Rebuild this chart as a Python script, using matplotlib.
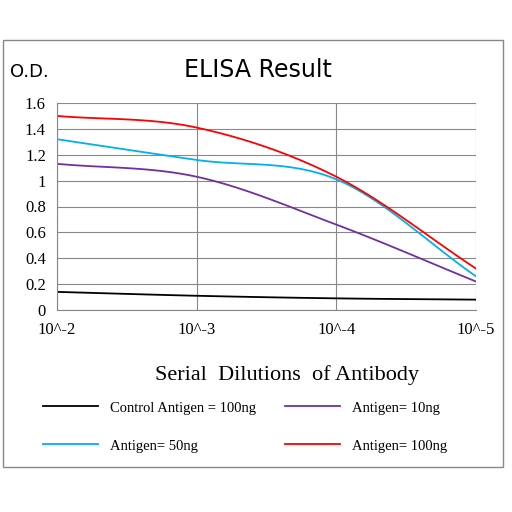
import numpy as np
import matplotlib
matplotlib.use("Agg")
import matplotlib.pyplot as plt

xlabels = ["10^-2", "10^-3", "10^-4", "10^-5"]
control = [0.14, 0.11, 0.09, 0.08]
ag10 = [1.13, 1.03, 0.66, 0.22]
ag50 = [1.32, 1.16, 1.01, 0.26]
ag100 = [1.50, 1.41, 1.03, 0.32]
names = ["Control Antigen = 100ng", "Antigen= 10ng", "Antigen= 50ng", "Antigen= 100ng"]
colors = ["black", "#7030A0", "#00B0F0", "#FF0000"]

def smooth(y, n=30):
    p = np.array(y, float)
    ext = np.concatenate([[2*p[0]-p[1]], p, [2*p[-1]-p[-2]]])
    xs, ys = [], []
    for i in range(len(p)-1):
        p0, p1, p2, p3 = ext[i:i+4]
        t = np.linspace(0, 1, n, endpoint=False)
        yy = 0.5*((2*p1) + (-p0+p2)*t + (2*p0-5*p1+4*p2-p3)*t**2 + (-p0+3*p1-3*p2+p3)*t**3)
        xs.append(i+t); ys.append(yy)
    xs.append([len(p)-1]); ys.append([p[-1]])
    return np.concatenate(xs), np.concatenate(ys)

fig = plt.figure(figsize=(5.12, 5.12), dpi=100)
fig.patches.append(plt.Rectangle((3/512, 1-467/512), 500/512, 427/512, transform=fig.transFigure,
                                 fill=False, edgecolor="#888888", lw=1))
ax = fig.add_axes([57/512, 1-310/512, 419/512, 207/512])
serif = "Liberation Serif"
handles = []
for y, c, nm in zip([control, ag10, ag50, ag100], colors, names):
    xs, ys = smooth(y)
    h, = ax.plot(xs, ys, color=c, lw=1.3, label=nm)
    handles.append(h)
ax.set_xlim(0, 3)
ax.set_ylim(0, 1.6)
ax.set_yticks(np.arange(0, 1.61, 0.2))
ax.set_yticklabels(["0", "0.2", "0.4", "0.6", "0.8", "1", "1.2", "1.4", "1.6"], fontfamily=serif, fontsize=12)
ax.set_xticks(range(4))
ax.set_xticklabels(xlabels, fontfamily=serif, fontsize=12)
ax.grid(True, color="#888888", lw=0.8)
ax.tick_params(axis="y", length=0, pad=8)
ax.tick_params(axis="x", length=0, pad=9)
for s in ["top", "right"]:
    ax.spines[s].set_visible(False)
for s in ["left", "bottom"]:
    ax.spines[s].set_color("#888888")
ax.set_axisbelow(True)
fig.text(10/512, 1-72/512, "O.D.", fontsize=13, va="center")
fig.text(258/512, 1-70/512, "ELISA Result", fontsize=17, ha="center", va="center")
fig.text(287/512, 1-375/512, "Serial  Dilutions  of Antibody", fontsize=16, ha="center", va="center", fontfamily=serif)
order = [0, 2, 1, 3]
fig.legend([handles[i] for i in order], [names[i] for i in order], loc="center",
           bbox_to_anchor=(245/512, 1-427/512), ncol=2, frameon=False,
           prop={"family": serif, "size": 10.5}, handlelength=3.8, columnspacing=2.0, labelspacing=1.7)
fig.savefig("out.png", dpi=100)
